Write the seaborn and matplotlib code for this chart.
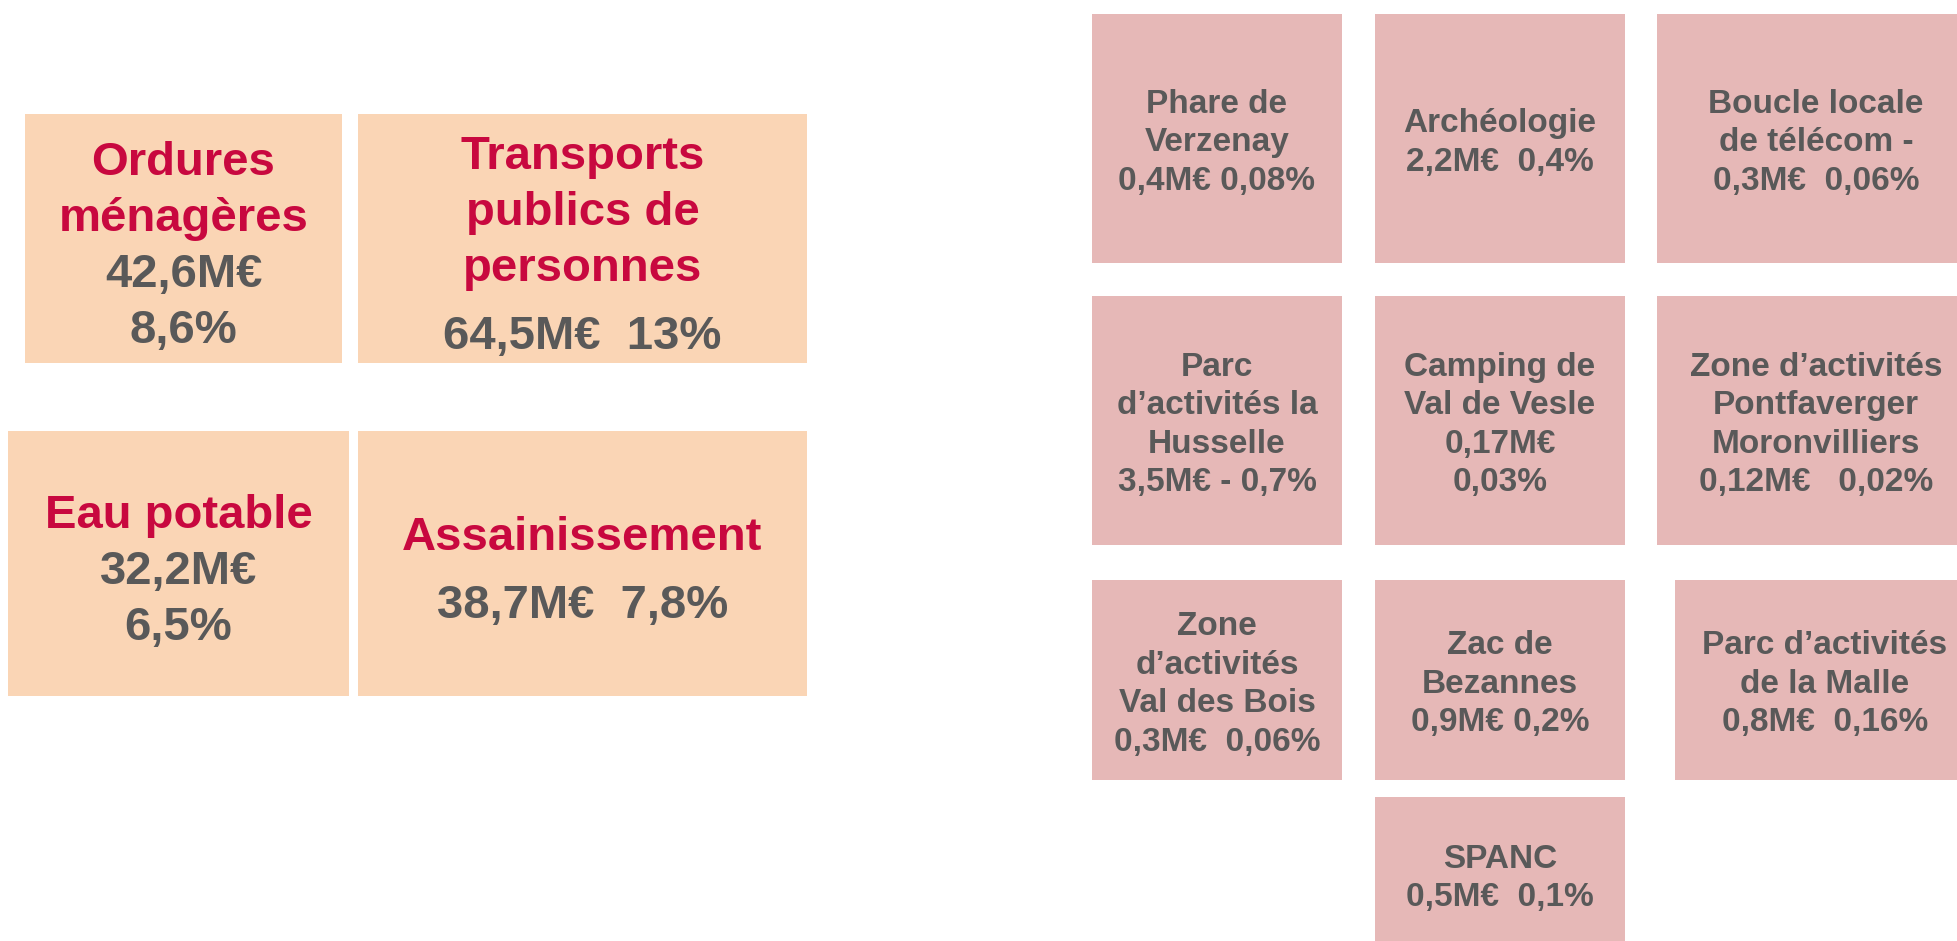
import matplotlib
matplotlib.use("Agg")
import matplotlib.pyplot as plt
import seaborn as sns

# ==========================================
# Data
# ==========================================

main_names = ["Ordures\nménagères", "Transports\npublics de\npersonnes",
              "Eau potable", "Assainissement"]
main_amounts = ["42,6M€", "64,5M€", "32,2M€", "38,7M€"]
main_shares = ["8,6%", "13%", "6,5%", "7,8%"]

small_names = ["Phare de\nVerzenay", "Archéologie", "Boucle locale\nde télécom -",
               "Parc\nd’activités la\nHusselle", "Camping de\nVal de Vesle",
               "Zone d’activités\nPontfaverger\nMoronvilliers",
               "Zone\nd’activités\nVal des Bois", "Zac de\nBezannes",
               "Parc d’activités\nde la Malle", "SPANC"]
small_amounts = ["0,4M€", "2,2M€", "0,3M€", "3,5M€", "0,17M€",
                 "0,12M€", "0,3M€", "0,9M€", "0,8M€", "0,5M€"]
small_shares = ["0,08%", "0,4%", "0,06%", "0,7%", "0,03%",
                "0,02%", "0,06%", "0,2%", "0,16%", "0,1%"]

# ==========================================
# Layout (pixel coordinates, y downwards)
# ==========================================

main_boxes = [(25, 114, 342, 363), (358, 114, 807, 363),
              (8, 431, 349, 696), (358, 431, 807, 696)]
main_sep = ["\n", "  ", "\n", "  "]
main_gap = [0, 12, 0, 12]

small_boxes = [(1092, 14, 1342, 263), (1375, 14, 1625, 263), (1657, 14, 1975, 263),
               (1092, 296, 1342, 545), (1375, 296, 1625, 545), (1657, 296, 1975, 545),
               (1092, 580, 1342, 780), (1375, 580, 1625, 780), (1675, 580, 1975, 780),
               (1375, 797, 1625, 951)]
small_sep = [" ", "  ", "  ", " - ", "\n", "   ", "  ", " ", "  ", "  "]

PEACH = "#FAD5B5"
PINK = "#E6B8B7"
RED = "#C8083F"
GREY = "#595959"

W, H, DPI = 1957, 941, 100

sns.set_theme(style="white")
plt.rcParams['font.family'] = ['Liberation Sans', 'DejaVu Sans']

fig = plt.figure(figsize=(W / DPI, H / DPI), dpi=DPI)
ax = fig.add_axes([0, 0, 1, 1])
ax.set_xlim(0, W)
ax.set_ylim(H, 0)
ax.axis("off")


def draw_boxes(boxes, color):
    xs = [(b[0] + b[2]) / 2 for b in boxes]
    ws = [b[2] - b[0] for b in boxes]
    hs = [b[3] - b[1] for b in boxes]
    tops = [b[1] for b in boxes]
    ax.bar(xs, hs, width=ws, bottom=tops, color=color, linewidth=0)


def draw_lines(box, lines, size, step, gap=0, offset=0):
    # lines: list of (text, colour, is_value)
    cx = (box[0] + box[2]) / 2
    cy = (box[1] + box[3]) / 2 + offset
    total = (len(lines) - 1) * step + gap
    y = cy - total / 2
    cap = 0.716 * size * DPI / 72
    prev_value = None
    for txt, col, is_value in lines:
        if prev_value is False and is_value:
            y += gap
        ax.text(cx, y + cap / 2, txt, ha="center", va="baseline",
                fontsize=size, fontweight="bold", color=col)
        y += step
        prev_value = is_value


draw_boxes(main_boxes, PEACH)
draw_boxes(small_boxes, PINK)

for i, box in enumerate(main_boxes):
    lines = [(t, RED, False) for t in main_names[i].split("\n")]
    values = (main_amounts[i] + main_sep[i] + main_shares[i]).split("\n")
    lines += [(t, GREY, True) for t in values]
    draw_lines(box, lines, 34, 56, gap=main_gap[i], offset=4)

for i, box in enumerate(small_boxes):
    lines = [(t, GREY, False) for t in small_names[i].split("\n")]
    values = (small_amounts[i] + small_sep[i] + small_shares[i]).split("\n")
    lines += [(t, GREY, True) for t in values]
    draw_lines(box, lines, 24, 38.5, offset=1)

fig.savefig("out.png", dpi=DPI, facecolor="white")
